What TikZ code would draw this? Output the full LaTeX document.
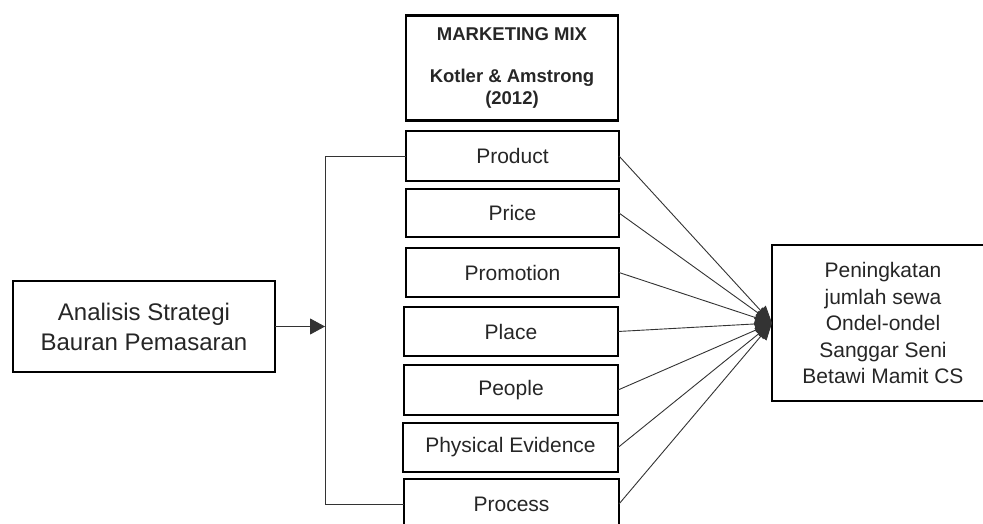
\documentclass[tikz,border=0pt]{standalone}
\usepackage{fontspec}
\setmainfont{Liberation Sans}
\usetikzlibrary{arrows.meta}
\begin{document}
\begin{tikzpicture}[x=1pt,y=-1pt,
  box/.style={draw=black, line width=2.4pt, inner sep=0pt, outer sep=0pt, align=center, text=black!85},
  item/.style={box, font=\fontsize{21}{25}\selectfont, minimum height=49pt},
  conn/.style={line width=0.9pt, draw=black!80},
  tipl/.style={-{Triangle[length=15pt,width=16pt]}},
  tipr/.style={-{Triangle[length=17pt,width=14pt]}}]
\useasboundingbox (0,0) rectangle (983,524);
% top header box
\node[box, minimum width=212pt, minimum height=105pt, font=\bfseries\fontsize{18.5}{22}\selectfont] (head) at (512,68)
  {MARKETING MIX\\[20pt]Kotler \& Amstrong\\(2012)};
% mix items
\node[item, minimum width=213pt, minimum height=50pt] (prod)   at (512.5,156)   {Product};
\node[item, minimum width=213pt, minimum height=48pt] (price)  at (512.5,213)   {Price};
\node[item, minimum width=213pt]                      (promo)  at (512.5,272.5) {Promotion};
\node[item, minimum width=214pt]                      (place)  at (511,331.5)   {Place};
\node[item, minimum width=214pt, minimum height=50pt] (people) at (511,390)     {People};
\node[item, minimum width=215pt]                      (phys)   at (510.5,447.5) {Physical Evidence};
\node[item, minimum width=215pt, minimum height=50pt] (proc)   at (511.5,504)   {Process};
% left box
\node[box, minimum width=262pt, minimum height=91pt, font=\fontsize{24}{30}\selectfont] (lbox) at (144,326.5)
  {Analisis Strategi\\Bauran Pemasaran};
% right box (cut by the right edge)
\node[box, minimum width=222pt, minimum height=156pt, font=\fontsize{21}{26.5}\selectfont] (rbox) at (883,323)
  {Peningkatan\\jumlah sewa\\Ondel-ondel\\Sanggar Seni\\Betawi Mamit CS};
% bus on the left
\coordinate (bt) at (325,156);
\draw[conn] (prod.west) -- (prod.west -| bt) -- (proc.west -| bt) -- (proc.west);
\draw[conn, tipl] (lbox.east) -- (lbox.east -| bt);
% converging arrows
\foreach \n in {prod,price,promo,place,people,phys,proc}
  \draw[conn, tipr] (\n.east) -- (rbox.west);
\end{tikzpicture}
\end{document}
